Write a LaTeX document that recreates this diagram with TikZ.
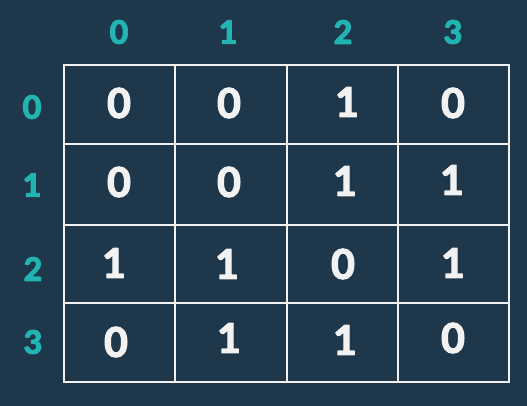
\documentclass[tikz,border=0pt]{standalone}
\usepackage{fontspec}
\setmainfont{Lato}
\newcommand{\thick}[1]{\special{pdf:code 1 j 2 Tr 1.3 w}#1\special{pdf:code 0 Tr}}
\definecolor{bg}{HTML}{1E374B}
\definecolor{hdrteal}{HTML}{22B3B3}
\definecolor{cellw}{HTML}{F2F2F2}
\begin{document}
\begin{tikzpicture}[x=1pt,y=-1pt,
  hdr/.style={text=hdrteal,font=\fontsize{32}{34}\selectfont\bfseries,inner sep=0pt},
  val/.style={text=cellw,font=\fontsize{41}{43}\selectfont\bfseries,inner sep=0pt},
  gridline/.style={draw=cellw,line width=2.9pt}]
\fill[bg] (0,0) rectangle (527,406);
\useasboundingbox (0,0) rectangle (527,406);
% grid
\draw[gridline] (64,65) rectangle (509,382);
\foreach \x in {175,287,398} \draw[gridline] (\x,65) -- (\x,382);
\foreach \y in {144,225,303} \draw[gridline] (64,\y) -- (509,\y);
% column headers
\node[hdr] (c0) at (119,32) {\thick{0}};
\node[hdr] (c1) at (228,32) {\thick{1}};
\node[hdr] (c2) at (343,32) {\thick{2}};
\node[hdr] (c3) at (453,32) {\thick{3}};
% row headers
\node[hdr] (r0) at (32,107) {\thick{0}};
\node[hdr] (r1) at (32,185) {\thick{1}};
\node[hdr] (r2) at (33,269) {\thick{2}};
\node[hdr] (r3) at (33,342) {\thick{3}};
% values
\node[val] (v00) at (119,103) {\thick{0}};
\node[val] (v01) at (229,103) {\thick{0}};
\node[val] (v02) at (347,102) {\thick{1}};
\node[val] (v03) at (453,103) {\thick{0}};
\node[val] (v10) at (119,182) {\thick{0}};
\node[val] (v11) at (229,182) {\thick{0}};
\node[val] (v12) at (345,181) {\thick{1}};
\node[val] (v13) at (452,180) {\thick{1}};
\node[val] (v20) at (114,263) {\thick{1}};
\node[val] (v21) at (227,264) {\thick{1}};
\node[val] (v22) at (343,264) {\thick{0}};
\node[val] (v23) at (453,263) {\thick{1}};
\node[val] (v30) at (116,342) {\thick{0}};
\node[val] (v31) at (229,338) {\thick{1}};
\node[val] (v32) at (345,340) {\thick{1}};
\node[val] (v33) at (453,338) {\thick{0}};
\end{tikzpicture}
\end{document}
